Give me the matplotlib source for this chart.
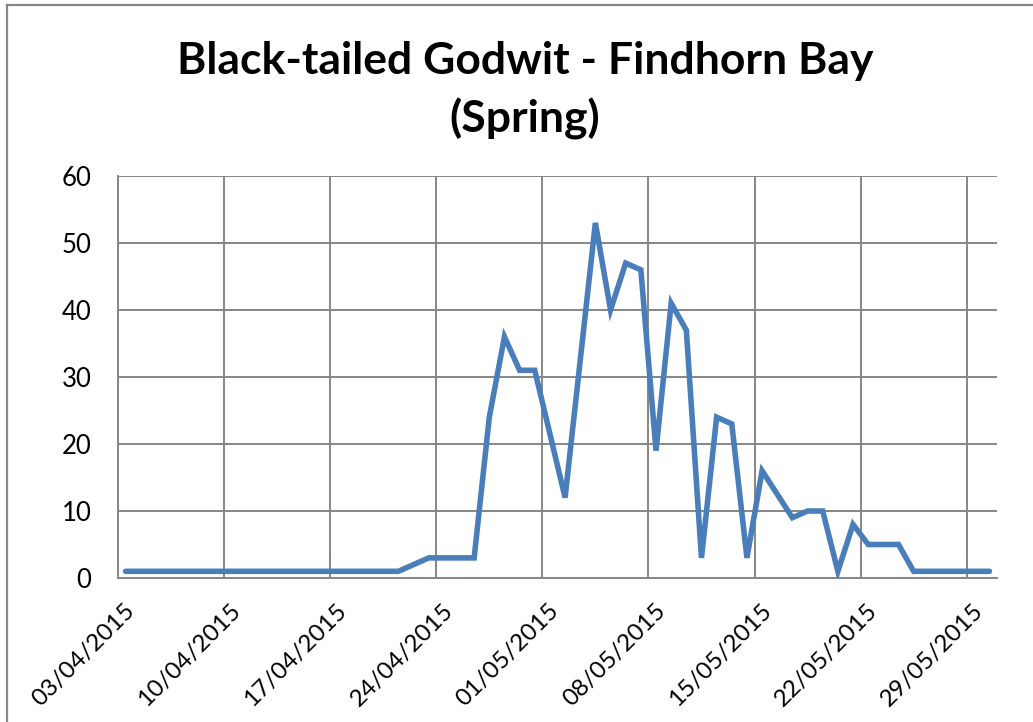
import matplotlib
matplotlib.use("Agg")
import matplotlib.pyplot as plt
import matplotlib.dates as mdates
import matplotlib.transforms as mtransforms
from matplotlib.lines import Line2D
import pandas as pd

# Survey counts (date, birds)
count_dates = ["03/04/2015", "21/04/2015", "23/04/2015", "26/04/2015", "27/04/2015",
               "28/04/2015", "29/04/2015", "30/04/2015", "02/05/2015", "04/05/2015",
               "05/05/2015", "06/05/2015", "07/05/2015", "08/05/2015", "09/05/2015",
               "10/05/2015", "11/05/2015", "12/05/2015", "13/05/2015", "14/05/2015",
               "15/05/2015", "17/05/2015", "18/05/2015", "19/05/2015", "20/05/2015",
               "21/05/2015", "22/05/2015", "24/05/2015", "25/05/2015", "30/05/2015"]
count_values = [1, 1, 3, 3, 24,
                36, 31, 31, 12, 53,
                40, 47, 46, 19, 41,
                37, 3, 24, 23, 3,
                16, 9, 10, 10, 1,
                8, 5, 5, 1, 1]

axis_start = "03/04/2015"
axis_end = "31/05/2015"
y_ticks = [0, 10, 20, 30, 40, 50, 60]
title_lines = ["Black-tailed Godwit - Findhorn Bay", "(Spring)"]

FONT = "Lato"
GRID = "#868686"
LINE = "#4A7EBB"

dates = pd.to_datetime(count_dates, format="%d/%m/%Y") + pd.Timedelta(hours=12)
start = pd.to_datetime(axis_start, format="%d/%m/%Y")
end = pd.to_datetime(axis_end, format="%d/%m/%Y")

fig = plt.figure(figsize=(10.33, 7.22), dpi=100)
ax = fig.add_axes([118 / 1033, 144 / 722, 879 / 1033, 402 / 722])

ax.plot(dates, count_values, color=LINE, linewidth=4.0,
        solid_joinstyle="miter", solid_capstyle="round", zorder=3)

ax.set_xlim(start, end)
ax.set_ylim(0, 60)
ax.set_yticks(y_ticks)
ticks = pd.date_range(start, end, freq="7D")
ax.set_xticks(ticks)
ax.xaxis.set_major_formatter(mdates.DateFormatter("%d/%m/%Y"))

ax.grid(True, color=GRID, linewidth=1.4, zorder=1)
ax.set_axisbelow(True)
for side in ("top", "right"):
    ax.spines[side].set_visible(False)
for side in ("left", "bottom"):
    ax.spines[side].set_color(GRID)
    ax.spines[side].set_linewidth(1.4)

ax.tick_params(axis="both", length=0)
ax.tick_params(axis="y", pad=19, labelsize=18.5)
ax.tick_params(axis="x", pad=16, labelsize=17.5)
for lbl in ax.get_yticklabels():
    lbl.set_fontfamily(FONT)
shift = mtransforms.ScaledTranslation(6 / 100, 0, fig.dpi_scale_trans)
for lbl in ax.get_xticklabels():
    lbl.set_fontfamily(FONT)
    lbl.set_rotation(45)
    lbl.set_ha("right")
    lbl.set_va("top")
    lbl.set_rotation_mode("anchor")
    lbl.set_transform(lbl.get_transform() + shift)

fig.text(0.508, 1 - 74 / 722, title_lines[0], ha="center", va="baseline",
         fontsize=32, fontweight="bold", family=FONT)
fig.text(0.508, 1 - 132 / 722, title_lines[1], ha="center", va="baseline",
         fontsize=32, fontweight="bold", family=FONT)

# Chart-area frame (left and top edges)
fig.add_artist(Line2D([7 / 1033, 7 / 1033], [0, 1 - 5 / 722], transform=fig.transFigure,
                      color=GRID, linewidth=1.6))
fig.add_artist(Line2D([7 / 1033, 1], [1 - 5 / 722, 1 - 5 / 722], transform=fig.transFigure,
                      color=GRID, linewidth=1.6))

fig.savefig("out.png", dpi=100)
